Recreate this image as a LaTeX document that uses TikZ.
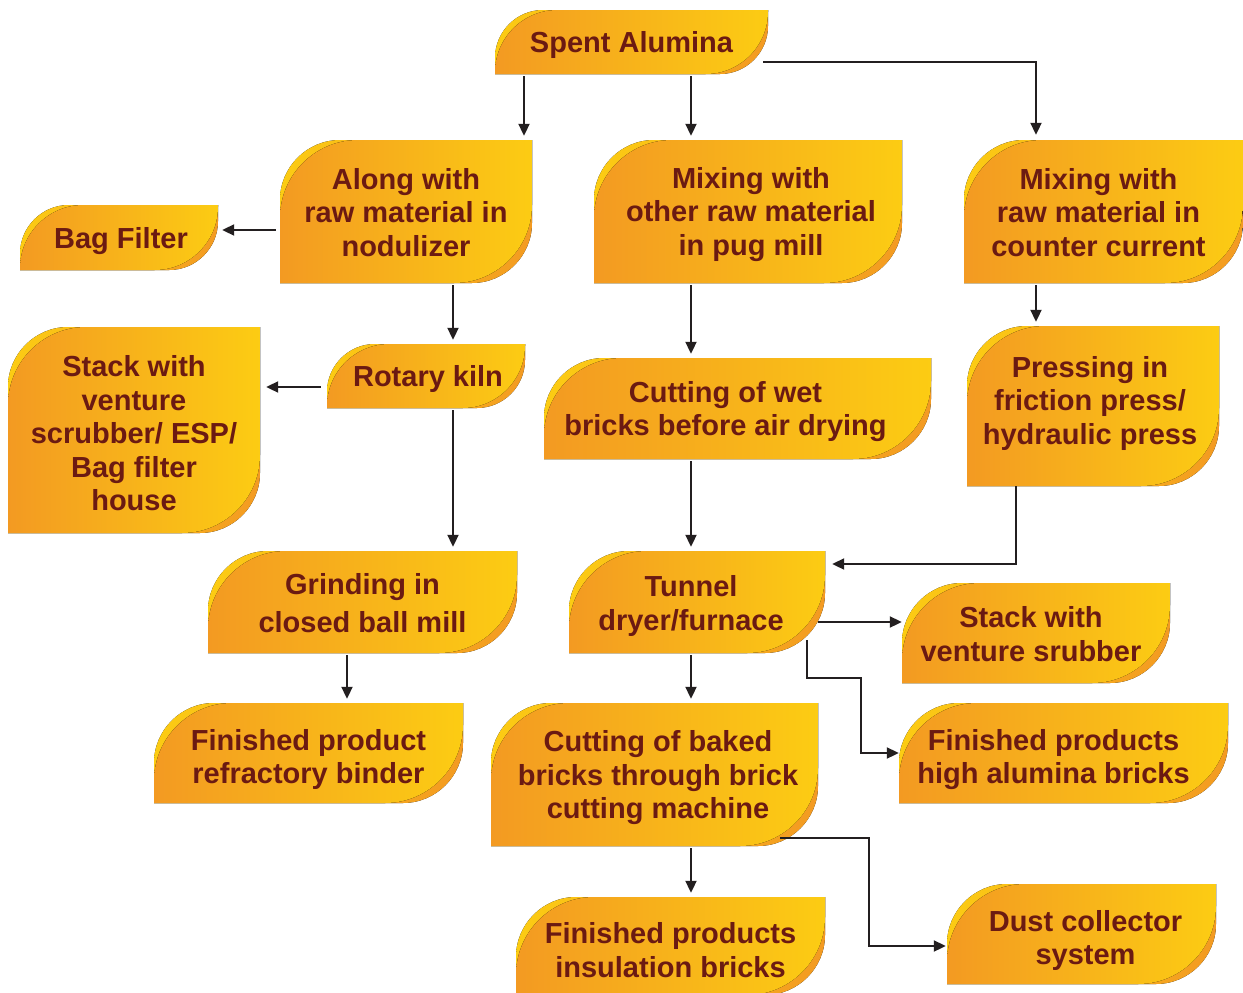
\documentclass[tikz,border=0pt]{standalone}
\usepackage{fontspec}
\setmainfont{Liberation Sans}
\usetikzlibrary{arrows.meta, calc}

\definecolor{leaforange}{HTML}{F39A22}
\definecolor{leafyellow}{HTML}{FCCC13}
\definecolor{leaftext}{HTML}{6B1A12}
\definecolor{linkgray}{HTML}{231F20}

\tikzset{
  >={Triangle[length=12pt, width=11pt]},
  leaf/.style  = {inner sep=0pt, label distance=0pt,
                  path picture={
                    % back leaf: shows as the thin rims
                    \fill[left color=leafyellow, right color=leaforange]
                      let \p1=(path picture bounding box.south west),
                          \p2=(path picture bounding box.north east),
                          \n1={min(60,0.75*(\y2-\y1))} in
                      (\x1,\y1) -- (\x1,\y2-\n1)
                      .. controls (\x1,\y2-0.45*\n1) and (\x1+0.45*\n1,\y2) .. (\x1+\n1,\y2)
                      -- (\x2,\y2) -- (\x2,\y1+\n1)
                      .. controls (\x2,\y1+0.45*\n1) and (\x2-0.45*\n1,\y1) .. (\x2-\n1,\y1)
                      -- cycle;
                    % front leaf
                    \fill[left color=leaforange, right color=leafyellow]
                      let \p1=(path picture bounding box.south west),
                          \p2=(path picture bounding box.north east),
                          \n1={1.3*min(60,0.75*(\y2-\y1))} in
                      (\x1,\y1) -- (\x1,\y2-\n1)
                      .. controls (\x1,\y2-0.45*\n1) and (\x1+0.45*\n1,\y2) .. (\x1+\n1,\y2)
                      -- (\x2,\y2) -- (\x2,\y1+\n1)
                      .. controls (\x2,\y1+0.45*\n1) and (\x2-0.45*\n1,\y1) .. (\x2-\n1,\y1)
                      -- cycle;
                  }},
  every label/.style = {inner sep=0pt, align=center, text=leaftext,
                        font=\fontsize{29}{33.5}\selectfont\bfseries},
  arrow/.style = {->, line width=2pt, draw=linkgray},
}

\begin{document}
\begin{tikzpicture}[x=1pt, y=-1pt]
  \useasboundingbox[fill=white] (0,0) rectangle (1243,993);

  % top row
  \node[leaf, minimum width=273pt, minimum height=64pt,
        label={[shift={(0,3)}]center:Spent Alumina}] (spent) at (631.5,42) {};
  \node[leaf, minimum width=252pt, minimum height=143pt,
        label={[shift={(0,1)}]center:{Along with\\raw material in\\nodulizer}}] (nodul) at (406,211.5) {};
  \node[leaf, minimum width=308pt, minimum height=143pt,
        label={[shift={(3,3)}]center:{Mixing with\\other raw material\\in pug mill}}] (pugmill) at (748,211.5) {};
  \node[leaf, minimum width=279pt, minimum height=143pt,
        label={[shift={(-5,1)}]center:{Mixing with\\raw material in\\counter current}}] (counter) at (1103.5,211.5) {};
  \node[leaf, minimum width=198pt, minimum height=65pt,
        label={[shift={(2,4)}]center:Bag Filter}] (bagfilter) at (119,237.5) {};

  % second row
  \node[leaf, minimum width=252pt, minimum height=206pt,
        label={[shift={(0,3.5)}]center:{Stack with\\venture\\scrubber/ ESP/\\Bag filter\\house}}] (stackesp) at (134,430) {};
  \node[leaf, minimum width=198pt, minimum height=64pt,
        label={[shift={(2,3)}]center:Rotary kiln}] (kiln) at (426,376) {};
  \node[leaf, minimum width=387pt, minimum height=101pt,
        label={[shift={(-12,3)}]center:{Cutting of wet\\bricks before air drying}}] (wetcut) at (737.5,408.5) {};
  \node[leaf, minimum width=252pt, minimum height=160pt,
        label={[shift={(-3,-3)}]center:{Pressing in\\friction press/\\hydraulic press}}] (press) at (1093,406) {};

  % third row
  \node[leaf, minimum width=309pt, minimum height=102pt,
        label={[shift={(0,1)}]center:{Grinding in\\[5pt]closed ball mill}}] (ballmill) at (362.5,602) {};
  \node[leaf, minimum width=256pt, minimum height=102pt,
        label={[shift={(-6,4)}]center:{Tunnel\\dryer/furnace}}] (tunnel) at (697,602) {};
  \node[leaf, minimum width=268pt, minimum height=100pt,
        label={[shift={(-5,1)}]center:{Stack with\\venture srubber}}] (scrubber) at (1036,633) {};

  % products
  \node[leaf, minimum width=309pt, minimum height=100pt,
        label={[shift={(0,6.5)}]center:{Finished product\\refractory binder}}] (binder) at (308.5,753) {};
  \node[leaf, minimum width=327pt, minimum height=143pt,
        label={[shift={(3.5,3.5)}]center:{Cutting of baked\\bricks through brick\\cutting machine}}] (bakedcut) at (654.5,774.5) {};
  \node[leaf, minimum width=329pt, minimum height=100pt,
        label={[shift={(-10,6.5)}]center:{Finished products\\high alumina bricks}}] (highalu) at (1063.5,753) {};
  \node[leaf, minimum width=309pt, minimum height=98pt,
        label={[shift={(0,4)}]center:{Finished products\\insulation bricks}}] (insul) at (670.5,946) {};
  \node[leaf, minimum width=269pt, minimum height=100pt,
        label={[shift={(4,6.5)}]center:{Dust collector\\system}}] (dust) at (1081.5,934) {};

  % straight drops, x offset taken from the lower box
  \foreach \a/\b/\dx in {spent/nodul/118, spent/pugmill/-57, nodul/kiln/27,
                         kiln/ballmill/90.5, pugmill/wetcut/-46.5, counter/press/-57,
                         wetcut/tunnel/-6, tunnel/bakedcut/36.5, ballmill/binder/38.5,
                         bakedcut/insul/20.5}
    \draw[arrow, shorten <=2pt, shorten >=4pt]
      ([xshift=\dx pt]\b.north |- \a.south) -- ([xshift=\dx pt]\b.north);

  % side branches
  \draw[arrow] ([xshift=-5pt, yshift=-20pt]spent.east) -| ([xshift=-67.5pt, yshift=5pt]counter.north);
  \draw[arrow] ([xshift=-4pt, yshift=-18.5pt]nodul.west) -- ([xshift=4pt, yshift=-18.5pt]nodul.west -| bagfilter.east);
  \draw[arrow] ([xshift=-6pt, yshift=-11pt]kiln.west) -- ([xshift=6pt, yshift=-11pt]kiln.west -| stackesp.east);
  \draw[arrow] ([xshift=-77pt]press.south) |- ([xshift=7pt, yshift=38pt]tunnel.east);
  \draw[arrow] ([xshift=-7pt, yshift=-20pt]tunnel.east) -- ([yshift=-20pt]tunnel.east -| scrubber.west);
  \draw[arrow] ([xshift=-18pt, yshift=13pt]tunnel.south east)
    |- ([xshift=-38pt, yshift=75pt]highalu.west) |- (highalu.west);
  \draw[arrow] ([xshift=-38pt, yshift=8pt]bakedcut.south east)
    -| ([xshift=-78pt, yshift=-12pt]dust.west) -- ([xshift=-1pt, yshift=-12pt]dust.west);
\end{tikzpicture}
\end{document}
